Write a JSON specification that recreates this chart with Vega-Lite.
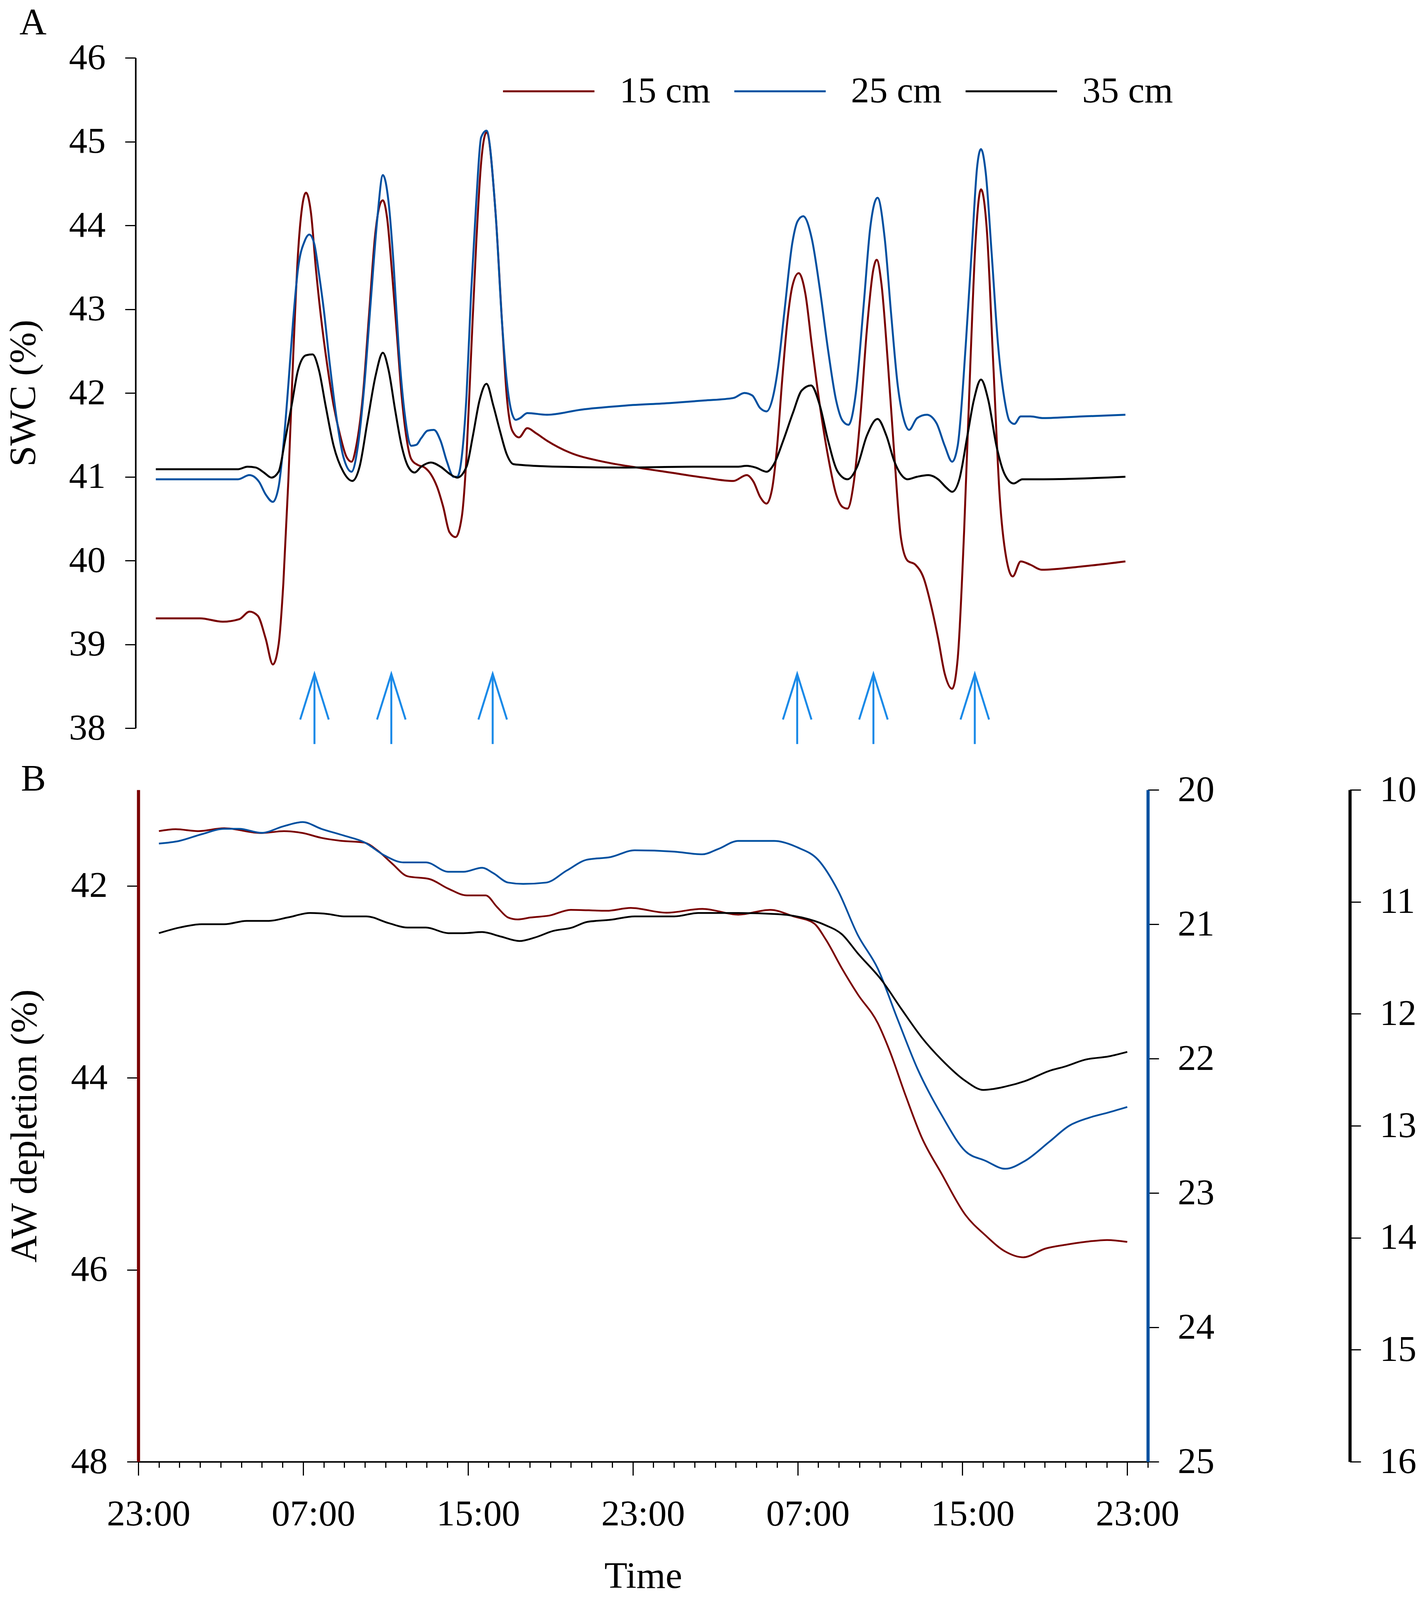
{
  "$schema": "https://vega.github.io/schema/vega-lite/v6.json",
  "width": 2584,
  "height": 3594,
  "autosize": {"type": "none"},
  "padding": {"left": 354, "top": 148, "right": 694, "bottom": 674},
  "background": "white",
  "config": {
    "font": "Liberation Serif",
    "view": {"stroke": null},
    "axis": {
      "grid": false,
      "labelFont": "Liberation Serif",
      "titleFont": "Liberation Serif",
      "labelFontSize": 94,
      "titleFontSize": 96,
      "titleFontWeight": "normal",
      "labelColor": "black",
      "titleColor": "black",
      "tickColor": "black",
      "domainColor": "black",
      "labelLimit": 1000,
      "labelOverlap": false,
      "labelFlush": false,
      "format": "d"
    }
  },
  "datasets": {
    "swc": [
      {"t": 0.85, "d": "15 cm", "v": 39.31}, {"t": 2.0, "d": "15 cm", "v": 39.31}, {"t": 3.0, "d": "15 cm", "v": 39.31},
      {"t": 4.1, "d": "15 cm", "v": 39.27}, {"t": 4.9, "d": "15 cm", "v": 39.3}, {"t": 5.4, "d": "15 cm", "v": 39.39},
      {"t": 5.8, "d": "15 cm", "v": 39.34}, {"t": 6.18, "d": "15 cm", "v": 39.07}, {"t": 6.53, "d": "15 cm", "v": 38.76},
      {"t": 6.81, "d": "15 cm", "v": 39.0}, {"t": 7.04, "d": "15 cm", "v": 39.73}, {"t": 7.28, "d": "15 cm", "v": 40.94},
      {"t": 7.52, "d": "15 cm", "v": 42.45}, {"t": 7.75, "d": "15 cm", "v": 43.66}, {"t": 7.94, "d": "15 cm", "v": 44.2},
      {"t": 8.14, "d": "15 cm", "v": 44.39}, {"t": 8.38, "d": "15 cm", "v": 44.15}, {"t": 8.62, "d": "15 cm", "v": 43.48},
      {"t": 8.85, "d": "15 cm", "v": 42.94}, {"t": 9.17, "d": "15 cm", "v": 42.33}, {"t": 9.48, "d": "15 cm", "v": 41.85},
      {"t": 9.8, "d": "15 cm", "v": 41.49}, {"t": 10.1, "d": "15 cm", "v": 41.24}, {"t": 10.35, "d": "15 cm", "v": 41.18},
      {"t": 10.58, "d": "15 cm", "v": 41.37}, {"t": 10.9, "d": "15 cm", "v": 41.97}, {"t": 11.2, "d": "15 cm", "v": 42.94},
      {"t": 11.5, "d": "15 cm", "v": 43.9}, {"t": 11.76, "d": "15 cm", "v": 44.27}, {"t": 11.87, "d": "15 cm", "v": 44.3},
      {"t": 12.08, "d": "15 cm", "v": 44.08}, {"t": 12.3, "d": "15 cm", "v": 43.48}, {"t": 12.55, "d": "15 cm", "v": 42.7},
      {"t": 12.78, "d": "15 cm", "v": 41.97}, {"t": 13.0, "d": "15 cm", "v": 41.49}, {"t": 13.25, "d": "15 cm", "v": 41.21},
      {"t": 13.57, "d": "15 cm", "v": 41.14}, {"t": 13.9, "d": "15 cm", "v": 41.11}, {"t": 14.2, "d": "15 cm", "v": 41.03},
      {"t": 14.5, "d": "15 cm", "v": 40.88}, {"t": 14.8, "d": "15 cm", "v": 40.64}, {"t": 15.1, "d": "15 cm", "v": 40.34},
      {"t": 15.4, "d": "15 cm", "v": 40.28}, {"t": 15.7, "d": "15 cm", "v": 40.52}, {"t": 15.93, "d": "15 cm", "v": 41.25},
      {"t": 16.15, "d": "15 cm", "v": 42.45}, {"t": 16.4, "d": "15 cm", "v": 43.78}, {"t": 16.64, "d": "15 cm", "v": 44.75},
      {"t": 16.9, "d": "15 cm", "v": 45.11}, {"t": 17.34, "d": "15 cm", "v": 44.15}, {"t": 17.66, "d": "15 cm", "v": 42.82},
      {"t": 17.88, "d": "15 cm", "v": 41.97}, {"t": 18.15, "d": "15 cm", "v": 41.55}, {"t": 18.48, "d": "15 cm", "v": 41.47},
      {"t": 18.88, "d": "15 cm", "v": 41.58}, {"t": 19.3, "d": "15 cm", "v": 41.52}, {"t": 19.84, "d": "15 cm", "v": 41.43},
      {"t": 20.93, "d": "15 cm", "v": 41.29}, {"t": 22.56, "d": "15 cm", "v": 41.18}, {"t": 24.2, "d": "15 cm", "v": 41.11},
      {"t": 25.83, "d": "15 cm", "v": 41.05}, {"t": 27.46, "d": "15 cm", "v": 40.99}, {"t": 28.88, "d": "15 cm", "v": 40.95},
      {"t": 29.53, "d": "15 cm", "v": 41.02}, {"t": 29.86, "d": "15 cm", "v": 40.94}, {"t": 30.18, "d": "15 cm", "v": 40.76},
      {"t": 30.49, "d": "15 cm", "v": 40.68}, {"t": 30.75, "d": "15 cm", "v": 40.84}, {"t": 31.0, "d": "15 cm", "v": 41.35},
      {"t": 31.25, "d": "15 cm", "v": 42.15}, {"t": 31.5, "d": "15 cm", "v": 42.85}, {"t": 31.75, "d": "15 cm", "v": 43.28},
      {"t": 32.05, "d": "15 cm", "v": 43.43}, {"t": 32.38, "d": "15 cm", "v": 43.18}, {"t": 32.69, "d": "15 cm", "v": 42.57},
      {"t": 33.08, "d": "15 cm", "v": 41.85}, {"t": 33.48, "d": "15 cm", "v": 41.24}, {"t": 33.87, "d": "15 cm", "v": 40.79},
      {"t": 34.18, "d": "15 cm", "v": 40.64}, {"t": 34.42, "d": "15 cm", "v": 40.62}, {"t": 34.73, "d": "15 cm", "v": 40.94},
      {"t": 35.05, "d": "15 cm", "v": 41.73}, {"t": 35.36, "d": "15 cm", "v": 42.75}, {"t": 35.68, "d": "15 cm", "v": 43.48},
      {"t": 35.84, "d": "15 cm", "v": 43.59}, {"t": 36.07, "d": "15 cm", "v": 43.3}, {"t": 36.39, "d": "15 cm", "v": 42.33},
      {"t": 36.7, "d": "15 cm", "v": 41.24}, {"t": 37.01, "d": "15 cm", "v": 40.28}, {"t": 37.33, "d": "15 cm", "v": 40.0},
      {"t": 37.72, "d": "15 cm", "v": 39.95}, {"t": 38.12, "d": "15 cm", "v": 39.79}, {"t": 38.51, "d": "15 cm", "v": 39.43},
      {"t": 38.82, "d": "15 cm", "v": 39.07}, {"t": 39.14, "d": "15 cm", "v": 38.65}, {"t": 39.5, "d": "15 cm", "v": 38.47},
      {"t": 39.77, "d": "15 cm", "v": 38.83}, {"t": 40.08, "d": "15 cm", "v": 40.34}, {"t": 40.4, "d": "15 cm", "v": 42.45},
      {"t": 40.63, "d": "15 cm", "v": 43.78}, {"t": 40.9, "d": "15 cm", "v": 44.43}, {"t": 41.18, "d": "15 cm", "v": 43.96},
      {"t": 41.5, "d": "15 cm", "v": 42.33}, {"t": 41.81, "d": "15 cm", "v": 40.76}, {"t": 42.12, "d": "15 cm", "v": 40.04},
      {"t": 42.44, "d": "15 cm", "v": 39.81}, {"t": 42.83, "d": "15 cm", "v": 39.99}, {"t": 43.3, "d": "15 cm", "v": 39.95},
      {"t": 43.85, "d": "15 cm", "v": 39.89}, {"t": 45.82, "d": "15 cm", "v": 39.93}, {"t": 47.91, "d": "15 cm", "v": 39.99},

      {"t": 0.85, "d": "25 cm", "v": 40.97}, {"t": 3.0, "d": "25 cm", "v": 40.97}, {"t": 4.84, "d": "25 cm", "v": 40.97},
      {"t": 5.39, "d": "25 cm", "v": 41.02}, {"t": 5.86, "d": "25 cm", "v": 40.94}, {"t": 6.18, "d": "25 cm", "v": 40.79},
      {"t": 6.53, "d": "25 cm", "v": 40.7}, {"t": 6.81, "d": "25 cm", "v": 40.88}, {"t": 7.04, "d": "25 cm", "v": 41.37},
      {"t": 7.28, "d": "25 cm", "v": 42.09}, {"t": 7.52, "d": "25 cm", "v": 42.88}, {"t": 7.75, "d": "25 cm", "v": 43.48},
      {"t": 8.07, "d": "25 cm", "v": 43.81}, {"t": 8.3, "d": "25 cm", "v": 43.89}, {"t": 8.54, "d": "25 cm", "v": 43.78},
      {"t": 8.77, "d": "25 cm", "v": 43.42}, {"t": 9.0, "d": "25 cm", "v": 43.0}, {"t": 9.3, "d": "25 cm", "v": 42.33},
      {"t": 9.64, "d": "25 cm", "v": 41.67}, {"t": 9.95, "d": "25 cm", "v": 41.24}, {"t": 10.35, "d": "25 cm", "v": 41.06},
      {"t": 10.66, "d": "25 cm", "v": 41.37}, {"t": 10.97, "d": "25 cm", "v": 42.09}, {"t": 11.29, "d": "25 cm", "v": 43.12},
      {"t": 11.6, "d": "25 cm", "v": 44.08}, {"t": 11.87, "d": "25 cm", "v": 44.6}, {"t": 12.15, "d": "25 cm", "v": 44.27},
      {"t": 12.39, "d": "25 cm", "v": 43.54}, {"t": 12.63, "d": "25 cm", "v": 42.57}, {"t": 12.94, "d": "25 cm", "v": 41.73},
      {"t": 13.25, "d": "25 cm", "v": 41.37}, {"t": 13.49, "d": "25 cm", "v": 41.38}, {"t": 13.73, "d": "25 cm", "v": 41.46},
      {"t": 14.04, "d": "25 cm", "v": 41.55}, {"t": 14.35, "d": "25 cm", "v": 41.56}, {"t": 14.67, "d": "25 cm", "v": 41.43},
      {"t": 14.98, "d": "25 cm", "v": 41.18}, {"t": 15.3, "d": "25 cm", "v": 41.0}, {"t": 15.48, "d": "25 cm", "v": 41.0},
      {"t": 15.7, "d": "25 cm", "v": 41.24}, {"t": 15.93, "d": "25 cm", "v": 41.97}, {"t": 16.15, "d": "25 cm", "v": 43.18},
      {"t": 16.4, "d": "25 cm", "v": 44.27}, {"t": 16.64, "d": "25 cm", "v": 45.05}, {"t": 16.9, "d": "25 cm", "v": 45.13},
      {"t": 17.34, "d": "25 cm", "v": 44.15}, {"t": 17.66, "d": "25 cm", "v": 42.82}, {"t": 17.88, "d": "25 cm", "v": 42.15},
      {"t": 18.1, "d": "25 cm", "v": 41.79}, {"t": 18.32, "d": "25 cm", "v": 41.68}, {"t": 18.53, "d": "25 cm", "v": 41.7},
      {"t": 18.88, "d": "25 cm", "v": 41.76}, {"t": 19.84, "d": "25 cm", "v": 41.74}, {"t": 21.47, "d": "25 cm", "v": 41.8},
      {"t": 23.65, "d": "25 cm", "v": 41.85}, {"t": 25.83, "d": "25 cm", "v": 41.88}, {"t": 27.46, "d": "25 cm", "v": 41.91},
      {"t": 28.88, "d": "25 cm", "v": 41.94}, {"t": 29.42, "d": "25 cm", "v": 42.0}, {"t": 29.8, "d": "25 cm", "v": 41.97},
      {"t": 30.18, "d": "25 cm", "v": 41.82}, {"t": 30.49, "d": "25 cm", "v": 41.78}, {"t": 30.8, "d": "25 cm", "v": 41.95},
      {"t": 31.05, "d": "25 cm", "v": 42.3}, {"t": 31.35, "d": "25 cm", "v": 42.95}, {"t": 31.75, "d": "25 cm", "v": 43.8},
      {"t": 32.0, "d": "25 cm", "v": 44.05}, {"t": 32.27, "d": "25 cm", "v": 44.11}, {"t": 32.69, "d": "25 cm", "v": 43.84},
      {"t": 33.08, "d": "25 cm", "v": 43.24}, {"t": 33.48, "d": "25 cm", "v": 42.51}, {"t": 33.87, "d": "25 cm", "v": 41.91},
      {"t": 34.18, "d": "25 cm", "v": 41.67}, {"t": 34.47, "d": "25 cm", "v": 41.62}, {"t": 34.81, "d": "25 cm", "v": 41.97},
      {"t": 35.21, "d": "25 cm", "v": 43.06}, {"t": 35.52, "d": "25 cm", "v": 43.96}, {"t": 35.88, "d": "25 cm", "v": 44.33},
      {"t": 36.23, "d": "25 cm", "v": 43.84}, {"t": 36.54, "d": "25 cm", "v": 42.94}, {"t": 36.86, "d": "25 cm", "v": 42.09},
      {"t": 37.17, "d": "25 cm", "v": 41.67}, {"t": 37.41, "d": "25 cm", "v": 41.56}, {"t": 37.8, "d": "25 cm", "v": 41.7},
      {"t": 38.27, "d": "25 cm", "v": 41.74}, {"t": 38.74, "d": "25 cm", "v": 41.64}, {"t": 39.14, "d": "25 cm", "v": 41.37},
      {"t": 39.5, "d": "25 cm", "v": 41.18}, {"t": 39.77, "d": "25 cm", "v": 41.37}, {"t": 40.16, "d": "25 cm", "v": 42.57},
      {"t": 40.47, "d": "25 cm", "v": 43.78}, {"t": 40.71, "d": "25 cm", "v": 44.69}, {"t": 40.9, "d": "25 cm", "v": 44.91},
      {"t": 41.13, "d": "25 cm", "v": 44.63}, {"t": 41.42, "d": "25 cm", "v": 43.66}, {"t": 41.73, "d": "25 cm", "v": 42.57},
      {"t": 42.05, "d": "25 cm", "v": 41.91}, {"t": 42.28, "d": "25 cm", "v": 41.67}, {"t": 42.52, "d": "25 cm", "v": 41.63},
      {"t": 42.83, "d": "25 cm", "v": 41.72}, {"t": 43.3, "d": "25 cm", "v": 41.72}, {"t": 43.93, "d": "25 cm", "v": 41.7},
      {"t": 45.82, "d": "25 cm", "v": 41.72}, {"t": 47.91, "d": "25 cm", "v": 41.74},

      {"t": 0.85, "d": "35 cm", "v": 41.09}, {"t": 3.0, "d": "35 cm", "v": 41.09}, {"t": 4.84, "d": "35 cm", "v": 41.09},
      {"t": 5.3, "d": "35 cm", "v": 41.12}, {"t": 5.7, "d": "35 cm", "v": 41.11}, {"t": 6.1, "d": "35 cm", "v": 41.05},
      {"t": 6.46, "d": "35 cm", "v": 40.99}, {"t": 6.81, "d": "35 cm", "v": 41.06}, {"t": 7.12, "d": "35 cm", "v": 41.43},
      {"t": 7.44, "d": "35 cm", "v": 41.85}, {"t": 7.75, "d": "35 cm", "v": 42.27}, {"t": 8.14, "d": "35 cm", "v": 42.45},
      {"t": 8.46, "d": "35 cm", "v": 42.46}, {"t": 8.77, "d": "35 cm", "v": 42.27}, {"t": 9.09, "d": "35 cm", "v": 41.85},
      {"t": 9.48, "d": "35 cm", "v": 41.37}, {"t": 9.95, "d": "35 cm", "v": 41.06}, {"t": 10.39, "d": "35 cm", "v": 40.95},
      {"t": 10.74, "d": "35 cm", "v": 41.12}, {"t": 11.13, "d": "35 cm", "v": 41.67}, {"t": 11.52, "d": "35 cm", "v": 42.21},
      {"t": 11.87, "d": "35 cm", "v": 42.48}, {"t": 12.15, "d": "35 cm", "v": 42.27}, {"t": 12.47, "d": "35 cm", "v": 41.79},
      {"t": 12.78, "d": "35 cm", "v": 41.37}, {"t": 13.1, "d": "35 cm", "v": 41.12}, {"t": 13.41, "d": "35 cm", "v": 41.05},
      {"t": 13.73, "d": "35 cm", "v": 41.12}, {"t": 14.2, "d": "35 cm", "v": 41.17}, {"t": 14.67, "d": "35 cm", "v": 41.12},
      {"t": 15.14, "d": "35 cm", "v": 41.03}, {"t": 15.48, "d": "35 cm", "v": 40.99}, {"t": 15.93, "d": "35 cm", "v": 41.12},
      {"t": 16.24, "d": "35 cm", "v": 41.49}, {"t": 16.56, "d": "35 cm", "v": 41.91}, {"t": 16.9, "d": "35 cm", "v": 42.11},
      {"t": 17.23, "d": "35 cm", "v": 41.85}, {"t": 17.55, "d": "35 cm", "v": 41.55}, {"t": 17.88, "d": "35 cm", "v": 41.27},
      {"t": 18.21, "d": "35 cm", "v": 41.15}, {"t": 18.64, "d": "35 cm", "v": 41.14}, {"t": 20.38, "d": "35 cm", "v": 41.12},
      {"t": 23.65, "d": "35 cm", "v": 41.11}, {"t": 26.92, "d": "35 cm", "v": 41.12}, {"t": 29.09, "d": "35 cm", "v": 41.12},
      {"t": 29.53, "d": "35 cm", "v": 41.13}, {"t": 29.96, "d": "35 cm", "v": 41.11}, {"t": 30.5, "d": "35 cm", "v": 41.06},
      {"t": 30.85, "d": "35 cm", "v": 41.15}, {"t": 31.3, "d": "35 cm", "v": 41.43}, {"t": 31.77, "d": "35 cm", "v": 41.76},
      {"t": 32.2, "d": "35 cm", "v": 42.03}, {"t": 32.65, "d": "35 cm", "v": 42.09}, {"t": 33.08, "d": "35 cm", "v": 41.85},
      {"t": 33.48, "d": "35 cm", "v": 41.43}, {"t": 33.95, "d": "35 cm", "v": 41.06}, {"t": 34.42, "d": "35 cm", "v": 40.97},
      {"t": 34.89, "d": "35 cm", "v": 41.12}, {"t": 35.36, "d": "35 cm", "v": 41.49}, {"t": 35.88, "d": "35 cm", "v": 41.69},
      {"t": 36.31, "d": "35 cm", "v": 41.49}, {"t": 36.7, "d": "35 cm", "v": 41.18}, {"t": 37.01, "d": "35 cm", "v": 41.03},
      {"t": 37.33, "d": "35 cm", "v": 40.97}, {"t": 37.8, "d": "35 cm", "v": 41.0}, {"t": 38.35, "d": "35 cm", "v": 41.02},
      {"t": 38.82, "d": "35 cm", "v": 40.97}, {"t": 39.22, "d": "35 cm", "v": 40.87}, {"t": 39.5, "d": "35 cm", "v": 40.82},
      {"t": 39.85, "d": "35 cm", "v": 40.97}, {"t": 40.24, "d": "35 cm", "v": 41.49}, {"t": 40.55, "d": "35 cm", "v": 41.91},
      {"t": 40.9, "d": "35 cm", "v": 42.16}, {"t": 41.26, "d": "35 cm", "v": 41.91}, {"t": 41.65, "d": "35 cm", "v": 41.37},
      {"t": 42.05, "d": "35 cm", "v": 41.03}, {"t": 42.49, "d": "35 cm", "v": 40.92}, {"t": 42.91, "d": "35 cm", "v": 40.97},
      {"t": 43.93, "d": "35 cm", "v": 40.97}, {"t": 47.91, "d": "35 cm", "v": 41.0}
    ],
    "aw": [
      {"t": 1.0, "d": "15 cm", "v": 41.43}, {"t": 1.81, "d": "15 cm", "v": 41.41}, {"t": 2.9, "d": "15 cm", "v": 41.43},
      {"t": 4.17, "d": "15 cm", "v": 41.4}, {"t": 5.98, "d": "15 cm", "v": 41.45}, {"t": 7.07, "d": "15 cm", "v": 41.43},
      {"t": 7.98, "d": "15 cm", "v": 41.45}, {"t": 8.88, "d": "15 cm", "v": 41.5}, {"t": 9.79, "d": "15 cm", "v": 41.53},
      {"t": 10.97, "d": "15 cm", "v": 41.55}, {"t": 11.6, "d": "15 cm", "v": 41.63}, {"t": 12.33, "d": "15 cm", "v": 41.77},
      {"t": 13.06, "d": "15 cm", "v": 41.9}, {"t": 14.14, "d": "15 cm", "v": 41.93}, {"t": 15.05, "d": "15 cm", "v": 42.03},
      {"t": 15.96, "d": "15 cm", "v": 42.1}, {"t": 16.86, "d": "15 cm", "v": 42.1}, {"t": 17.41, "d": "15 cm", "v": 42.22},
      {"t": 17.95, "d": "15 cm", "v": 42.33}, {"t": 18.41, "d": "15 cm", "v": 42.35}, {"t": 19.04, "d": "15 cm", "v": 42.33},
      {"t": 19.95, "d": "15 cm", "v": 42.31}, {"t": 20.99, "d": "15 cm", "v": 42.25}, {"t": 22.73, "d": "15 cm", "v": 42.26},
      {"t": 23.9, "d": "15 cm", "v": 42.23}, {"t": 25.63, "d": "15 cm", "v": 42.28}, {"t": 27.38, "d": "15 cm", "v": 42.24},
      {"t": 29.12, "d": "15 cm", "v": 42.3}, {"t": 30.67, "d": "15 cm", "v": 42.25}, {"t": 31.83, "d": "15 cm", "v": 42.32},
      {"t": 32.79, "d": "15 cm", "v": 42.39}, {"t": 33.37, "d": "15 cm", "v": 42.56}, {"t": 34.15, "d": "15 cm", "v": 42.86},
      {"t": 34.92, "d": "15 cm", "v": 43.13}, {"t": 35.89, "d": "15 cm", "v": 43.43}, {"t": 36.47, "d": "15 cm", "v": 43.72},
      {"t": 37.25, "d": "15 cm", "v": 44.19}, {"t": 38.02, "d": "15 cm", "v": 44.62}, {"t": 38.99, "d": "15 cm", "v": 45.0},
      {"t": 40.15, "d": "15 cm", "v": 45.43}, {"t": 41.11, "d": "15 cm", "v": 45.64}, {"t": 42.08, "d": "15 cm", "v": 45.81},
      {"t": 42.95, "d": "15 cm", "v": 45.87}, {"t": 44.02, "d": "15 cm", "v": 45.78}, {"t": 44.99, "d": "15 cm", "v": 45.74},
      {"t": 45.95, "d": "15 cm", "v": 45.71}, {"t": 47.02, "d": "15 cm", "v": 45.69}, {"t": 48.0, "d": "15 cm", "v": 45.71},

      {"t": 1.0, "d": "25 cm", "v": 20.4}, {"t": 1.99, "d": "25 cm", "v": 20.38}, {"t": 3.08, "d": "25 cm", "v": 20.33},
      {"t": 4.17, "d": "25 cm", "v": 20.29}, {"t": 4.89, "d": "25 cm", "v": 20.29}, {"t": 5.98, "d": "25 cm", "v": 20.32},
      {"t": 7.07, "d": "25 cm", "v": 20.27}, {"t": 7.98, "d": "25 cm", "v": 20.24}, {"t": 8.88, "d": "25 cm", "v": 20.29},
      {"t": 9.97, "d": "25 cm", "v": 20.34}, {"t": 10.97, "d": "25 cm", "v": 20.39}, {"t": 11.97, "d": "25 cm", "v": 20.49},
      {"t": 12.87, "d": "25 cm", "v": 20.54}, {"t": 13.96, "d": "25 cm", "v": 20.54}, {"t": 15.05, "d": "25 cm", "v": 20.61},
      {"t": 15.78, "d": "25 cm", "v": 20.61}, {"t": 16.69, "d": "25 cm", "v": 20.58}, {"t": 17.23, "d": "25 cm", "v": 20.62},
      {"t": 17.95, "d": "25 cm", "v": 20.69}, {"t": 18.68, "d": "25 cm", "v": 20.7}, {"t": 19.8, "d": "25 cm", "v": 20.69},
      {"t": 20.8, "d": "25 cm", "v": 20.6}, {"t": 21.77, "d": "25 cm", "v": 20.52}, {"t": 22.93, "d": "25 cm", "v": 20.5},
      {"t": 24.09, "d": "25 cm", "v": 20.45}, {"t": 26.02, "d": "25 cm", "v": 20.46}, {"t": 27.38, "d": "25 cm", "v": 20.48},
      {"t": 28.15, "d": "25 cm", "v": 20.44}, {"t": 29.12, "d": "25 cm", "v": 20.38}, {"t": 30.86, "d": "25 cm", "v": 20.38},
      {"t": 32.02, "d": "25 cm", "v": 20.43}, {"t": 32.99, "d": "25 cm", "v": 20.52}, {"t": 33.96, "d": "25 cm", "v": 20.75},
      {"t": 34.92, "d": "25 cm", "v": 21.08}, {"t": 35.89, "d": "25 cm", "v": 21.33}, {"t": 36.86, "d": "25 cm", "v": 21.71},
      {"t": 37.83, "d": "25 cm", "v": 22.08}, {"t": 38.99, "d": "25 cm", "v": 22.42}, {"t": 40.15, "d": "25 cm", "v": 22.69},
      {"t": 41.11, "d": "25 cm", "v": 22.76}, {"t": 42.08, "d": "25 cm", "v": 22.82}, {"t": 43.05, "d": "25 cm", "v": 22.76},
      {"t": 44.21, "d": "25 cm", "v": 22.62}, {"t": 45.18, "d": "25 cm", "v": 22.5}, {"t": 46.15, "d": "25 cm", "v": 22.44},
      {"t": 47.11, "d": "25 cm", "v": 22.4}, {"t": 48.0, "d": "25 cm", "v": 22.36},

      {"t": 1.0, "d": "35 cm", "v": 11.28}, {"t": 1.99, "d": "35 cm", "v": 11.23}, {"t": 3.08, "d": "35 cm", "v": 11.2},
      {"t": 4.17, "d": "35 cm", "v": 11.2}, {"t": 5.26, "d": "35 cm", "v": 11.17}, {"t": 6.34, "d": "35 cm", "v": 11.17},
      {"t": 7.25, "d": "35 cm", "v": 11.14}, {"t": 8.34, "d": "35 cm", "v": 11.1}, {"t": 9.25, "d": "35 cm", "v": 11.11},
      {"t": 9.97, "d": "35 cm", "v": 11.13}, {"t": 11.06, "d": "35 cm", "v": 11.13}, {"t": 12.15, "d": "35 cm", "v": 11.19},
      {"t": 13.06, "d": "35 cm", "v": 11.23}, {"t": 13.96, "d": "35 cm", "v": 11.23}, {"t": 15.05, "d": "35 cm", "v": 11.28},
      {"t": 15.78, "d": "35 cm", "v": 11.28}, {"t": 16.69, "d": "35 cm", "v": 11.27}, {"t": 17.59, "d": "35 cm", "v": 11.31},
      {"t": 18.5, "d": "35 cm", "v": 11.35}, {"t": 19.23, "d": "35 cm", "v": 11.32}, {"t": 20.14, "d": "35 cm", "v": 11.26},
      {"t": 21.05, "d": "35 cm", "v": 11.23}, {"t": 21.77, "d": "35 cm", "v": 11.18}, {"t": 22.93, "d": "35 cm", "v": 11.16},
      {"t": 24.09, "d": "35 cm", "v": 11.13}, {"t": 26.02, "d": "35 cm", "v": 11.13}, {"t": 27.18, "d": "35 cm", "v": 11.1},
      {"t": 29.12, "d": "35 cm", "v": 11.1}, {"t": 31.05, "d": "35 cm", "v": 11.11}, {"t": 32.21, "d": "35 cm", "v": 11.14},
      {"t": 33.37, "d": "35 cm", "v": 11.21}, {"t": 34.15, "d": "35 cm", "v": 11.29}, {"t": 34.92, "d": "35 cm", "v": 11.46},
      {"t": 36.08, "d": "35 cm", "v": 11.7}, {"t": 37.05, "d": "35 cm", "v": 11.96}, {"t": 38.02, "d": "35 cm", "v": 12.21},
      {"t": 38.99, "d": "35 cm", "v": 12.41}, {"t": 40.15, "d": "35 cm", "v": 12.6}, {"t": 41.02, "d": "35 cm", "v": 12.68},
      {"t": 42.08, "d": "35 cm", "v": 12.65}, {"t": 43.05, "d": "35 cm", "v": 12.6}, {"t": 44.21, "d": "35 cm", "v": 12.51},
      {"t": 44.99, "d": "35 cm", "v": 12.47}, {"t": 45.95, "d": "35 cm", "v": 12.41}, {"t": 47.11, "d": "35 cm", "v": 12.38},
      {"t": 48.0, "d": "35 cm", "v": 12.34}
    ],
    "irrigation": [
      {"t": 8.55}, {"t": 12.28}, {"t": 17.2}, {"t": 31.98}, {"t": 35.68}, {"t": 40.6}
    ]
  },
  "layer": [
    {
      "layer": [
        {
          "data": {"name": "swc"},
          "mark": {"type": "line", "interpolate": "monotone", "strokeWidth": 5},
          "encoding": {
            "x": {"field": "t", "type": "quantitative", "scale": {"domain": [0, 49], "nice": false, "zero": false}, "axis": null},
            "y": {
              "field": "v", "type": "quantitative",
              "scale": {"domain": [38, 46], "range": [1716, 0], "nice": false, "zero": false},
              "axis": {
                "orient": "left", "offset": 7, "values": [38, 39, 40, 41, 42, 43, 44, 45, 46],
                "tickSize": 27, "tickWidth": 3, "domainWidth": 4, "labelPadding": 50,
                "title": "SWC (%)", "titleAngle": -90, "titleX": -258, "titleY": 858,
                "titleBaseline": "alphabetic", "titleAlign": "center"
              }
            },
            "color": {
              "field": "d", "type": "nominal",
              "scale": {"domain": ["15 cm", "25 cm", "35 cm"], "range": ["#7a0000", "#0050a0", "#000000"]},
              "legend": {
                "orient": "none", "legendX": 931, "legendY": -34, "direction": "horizontal",
                "title": null, "symbolType": "stroke", "symbolSize": 54756, "symbolStrokeWidth": 5,
                "labelFont": "Liberation Serif", "labelFontSize": 94, "labelColor": "black",
                "labelOffset": 62, "columnPadding": 50, "labelLimit": 1000
              }
            }
          }
        },
        {
          "data": {"name": "irrigation"},
          "mark": {"type": "rule", "color": "#1a8ae8", "strokeWidth": 5},
          "encoding": {
            "x": {"field": "t", "type": "quantitative", "scale": {"domain": [0, 49], "nice": false, "zero": false}, "axis": null},
            "y": {"datum": 37.81},
            "y2": {"datum": 38.65}
          }
        },
        {
          "data": {"name": "irrigation"},
          "mark": {"type": "point", "shape": "M -0.624 1 L 0 -1 L 0.624 1", "size": 13689, "filled": false, "strokeWidth": 5, "color": "#1a8ae8", "opacity": 1},
          "encoding": {
            "x": {"field": "t", "type": "quantitative", "scale": {"domain": [0, 49], "nice": false, "zero": false}, "axis": null},
            "y": {"datum": 38.375}
          }
        },
        {
          "data": {"values": [{}]},
          "mark": {"type": "text", "text": "A", "fontSize": 96, "align": "left", "baseline": "alphabetic", "color": "black"},
          "encoding": {
            "x": {"datum": -5.77, "scale": {"domain": [0, 49], "nice": false, "zero": false}, "axis": null},
            "y": {"datum": 46.28}
          }
        },
        {
          "data": {"values": [{}]},
          "mark": {"type": "text", "text": "B", "fontSize": 96, "align": "left", "baseline": "alphabetic", "color": "black"},
          "encoding": {
            "x": {"datum": -5.7, "scale": {"domain": [0, 49], "nice": false, "zero": false}, "axis": null},
            "y": {"datum": 37.255}
          }
        }
      ]
    },
    {
      "data": {"name": "aw"},
      "transform": [{"filter": "datum.d === '15 cm'"}],
      "mark": {"type": "line", "interpolate": "monotone", "strokeWidth": 4.5, "color": "#7a0000"},
      "encoding": {
        "x": {
          "field": "t", "type": "quantitative", "scale": {"domain": [0, 49], "nice": false, "zero": false},
          "axis": {
            "orient": "bottom", "values": [0, 8, 16, 24, 32, 40, 48], "tickSize": 35, "tickWidth": 3, "domainWidth": 4,
            "labelExpr": "(((23 + datum.value) % 24) < 10 ? '0' : '') + ((23 + datum.value) % 24) + ':00'",
            "labelOffset": 26, "labelPadding": 127, "labelBaseline": "alphabetic",
            "title": "Time", "titleX": 1292, "titleY": 322, "titleBaseline": "alphabetic"
          }
        },
        "y": {
          "field": "v", "type": "quantitative",
          "scale": {"domain": [41, 48], "range": [1874, 3594], "nice": false, "zero": false},
          "axis": {
            "orient": "left", "values": [42, 44, 46, 48], "domainColor": "#7a0000", "domainWidth": 8,
            "tickSize": 29, "tickWidth": 3, "labelPadding": 50,
            "title": "AW depletion (%)", "titleAngle": -90, "titleX": -262, "titleY": 2734,
            "titleBaseline": "alphabetic", "titleAlign": "center"
          }
        }
      }
    },
    {
      "data": {"name": "aw"},
      "transform": [{"filter": "datum.d === '25 cm'"}],
      "mark": {"type": "line", "interpolate": "monotone", "strokeWidth": 4.5, "color": "#0050a0"},
      "encoding": {
        "x": {
          "field": "t", "type": "quantitative", "scale": {"domain": [0, 49], "nice": false, "zero": false},
          "axis": {
            "orient": "bottom", "values": [0, 1, 2, 3, 4, 5, 6, 7, 8, 9, 10, 11, 12, 13, 14, 15, 16, 17, 18, 19, 20, 21, 22, 23, 24, 25, 26, 27, 28, 29, 30, 31, 32, 33, 34, 35, 36, 37, 38, 39, 40, 41, 42, 43, 44, 45, 46, 47, 48, 49],
            "tickSize": 15, "tickWidth": 3, "labels": false, "domain": false, "title": null
          }
        },
        "y": {
          "field": "v", "type": "quantitative",
          "scale": {"domain": [20, 25], "range": [1874, 3594], "nice": false, "zero": false},
          "axis": {
            "orient": "right", "values": [20, 21, 22, 23, 24, 25], "domainColor": "#0050a0", "domainWidth": 8,
            "tickSize": 28, "tickWidth": 3, "labelPadding": 48, "title": null
          }
        }
      }
    },
    {
      "data": {"name": "aw"},
      "transform": [{"filter": "datum.d === '35 cm'"}],
      "mark": {"type": "line", "interpolate": "monotone", "strokeWidth": 4.5, "color": "#000000"},
      "encoding": {
        "x": {"field": "t", "type": "quantitative", "scale": {"domain": [0, 49], "nice": false, "zero": false}, "axis": null},
        "y": {
          "field": "v", "type": "quantitative",
          "scale": {"domain": [10, 16], "range": [1874, 3594], "nice": false, "zero": false},
          "axis": {
            "orient": "right", "offset": 517, "values": [10, 11, 12, 13, 14, 15, 16], "domainWidth": 8,
            "tickSize": 28, "tickWidth": 3, "labelPadding": 48, "title": null
          }
        }
      }
    }
  ],
  "resolve": {"scale": {"y": "independent"}, "axis": {"x": "independent", "y": "independent"}}
}
